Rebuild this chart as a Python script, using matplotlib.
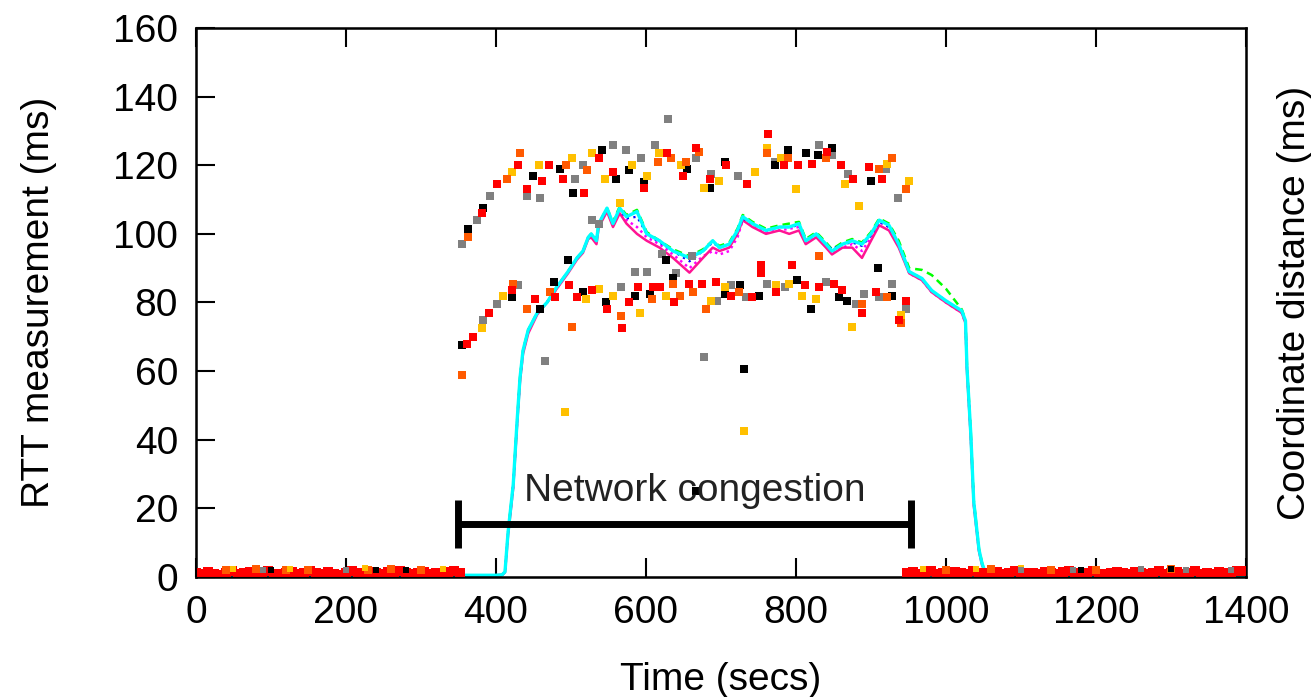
import matplotlib
matplotlib.use("Agg")
import matplotlib.pyplot as plt

plt.rcParams['font.family'] = ['Liberation Sans', 'DejaVu Sans']

# RTT samples during the congestion period, one list pair per colour
gray_t = [355, 375, 392, 441, 459, 505, 516, 556, 574, 594, 612, 630, 667, 687, 723, 772, 831, 848, 870, 920, 936,
          383, 401, 429, 567, 695, 714, 734, 762, 786, 840, 880, 891, 911, 928, 947,
          528, 537, 585, 602, 621, 640, 661, 465, 678]
gray_v = [97, 104, 111, 111, 110.5, 116, 120, 126, 124.5, 122, 126, 133.5, 122, 117.5, 117, 121, 126, 123, 117.5, 119, 110.5,
          75, 79.5, 85, 84.5, 80.5, 85, 81.5, 85.5, 84.5, 86, 79.5, 82.5, 81.5, 85.5, 78,
          104, 103, 89, 89, 94, 88.5, 93.5, 63, 64]

black_t = [363, 383, 449, 485, 503, 541, 560, 578, 597, 655, 686, 705, 772, 790, 813, 829, 848, 900,
           355, 421, 459, 477, 496, 516, 547, 586, 605, 636, 705, 725, 751, 802, 820, 857, 868, 910, 928,
           627, 731, 667]
black_v = [101.5, 107.5, 117, 119, 112, 124.5, 116, 118.5, 115, 119, 113.5, 121, 120, 124.5, 123.5, 123, 125, 115.5,
           67.5, 81.5, 78, 86, 92.5, 83, 80, 82, 82.5, 87, 82.5, 85, 82, 86.5, 78, 81.5, 80.5, 90, 82,
           92.5, 60.5, 25]

red_t = [381, 401, 429, 441, 461, 471, 489, 518, 538, 556, 597, 628, 649, 667, 686, 707, 735, 763, 784, 803, 822, 841,
         860, 876, 897, 915,
         361, 370, 391, 421, 452, 479, 497, 508, 528, 548, 568, 577, 589, 609, 619, 638, 657, 675, 694, 713, 742, 754,
         754, 774, 795, 812, 831, 851, 862, 888, 907, 937, 947]
red_v = [106, 114.5, 120, 113, 115.5, 120, 116, 112, 122, 118, 113.5, 123.5, 117, 125, 116, 120, 114.5, 129, 120, 120,
         120.5, 124, 120, 116, 119.5, 116,
         68, 70, 77, 83.5, 81, 81.5, 85, 81.5, 83.5, 78, 72.5, 80, 84.5, 84.5, 84.5, 80, 85.5, 85.5, 86, 82, 81.5, 91,
         88.5, 83, 91, 85, 84.5, 85.5, 83.5, 77, 83, 75, 80.5]

orange_t = [363, 415, 432, 493, 521, 616, 634, 653, 671, 762, 790, 840, 911, 928, 947,
            355, 423, 441, 472, 501, 567, 608, 636, 646, 663, 680, 724, 831, 888, 921, 940]
orange_v = [99, 116, 123.5, 120, 118.5, 121, 122, 121, 124, 123.5, 122, 122, 119, 122, 113,
            59, 85.5, 78, 83, 73, 76, 81, 85.5, 82, 83, 78, 83, 93.5, 79.5, 81.5, 74]

gold_t = [421, 457, 501, 528, 545, 582, 601, 618, 647, 678, 698, 745, 762, 780, 800, 865, 884, 921, 951,
          381, 410, 520, 537, 556, 565, 592, 627, 687, 705, 774, 791, 808, 827, 875, 940, 492, 731]
gold_v = [118, 120, 122, 123.5, 116, 120, 117, 123.5, 120, 113.5, 115.5, 118, 125, 122, 113, 114.5, 108, 120.5, 115.5,
          72.5, 82, 81, 84, 82, 109, 77, 82, 80.5, 84.5, 85, 85.5, 82, 81, 73, 76.5, 48, 42.5]

# RTT samples outside the congestion period (near zero)
base_red_t = [0, 8, 16, 24, 32, 40, 48, 56, 64, 72, 80, 88, 96, 104, 112, 120, 128, 136, 144, 152, 160, 168, 176,
              184, 192, 200, 208, 216, 224, 232, 240, 248, 256, 264, 272, 280, 288, 296, 304, 312, 320, 328, 336,
              344, 352,
              948, 956, 964, 972, 980, 988, 996, 1004, 1012, 1020, 1028, 1036, 1044, 1052, 1060, 1068, 1076, 1084,
              1092, 1100, 1108, 1116, 1124, 1132, 1140, 1148, 1156, 1164, 1172, 1180, 1188, 1196, 1204, 1212, 1220,
              1228, 1236, 1244, 1252, 1260, 1268, 1276, 1284, 1292, 1300, 1308, 1316, 1324, 1332, 1340, 1348, 1356,
              1364, 1372, 1380, 1388, 1396]
base_red_v = [1.2, 0.8, 1.5, 1.0, 0.7, 1.3, 1.6, 0.9, 1.1, 1.4, 0.8, 1.2, 1.7, 1.0, 0.9, 1.3, 1.5, 0.8, 1.1, 1.6,
              1.2, 0.9, 1.4, 1.0, 0.7, 1.3, 1.8, 1.1, 0.9, 1.5, 1.2, 0.8, 1.4, 1.0, 1.6, 1.1, 0.9, 1.3, 1.5, 0.8,
              1.2, 1.0, 1.4, 1.7, 1.1,
              1.1, 1.4, 0.9, 1.2, 1.6, 0.8, 1.3, 1.0, 1.5, 1.2, 0.9, 1.7, 1.1, 1.3, 0.8, 1.4, 1.0, 1.2, 1.6, 0.9,
              1.3, 1.1, 0.8, 1.5, 1.2, 1.0, 1.4, 1.7, 0.9, 1.1, 1.3, 1.6, 1.0, 0.8, 1.2, 1.4, 1.1, 0.9, 1.5, 1.3,
              1.0, 1.2, 1.6, 0.8, 1.1, 1.4, 0.9, 1.3, 1.7, 1.0, 1.2, 0.8, 1.5, 1.1, 1.3, 1.8, 1.6]
base_orange_t = [40, 80, 120, 150, 230, 260, 300, 1000, 1060, 1140, 1200, 1300]
base_orange_v = [2.0, 2.2, 1.9, 2.1, 2.0, 2.3, 2.0, 2.1, 2.2, 1.9, 2.0, 2.2]
base_gold_t = [50, 125, 225, 330, 970, 1040, 1100]
base_gold_v = [2.4, 2.2, 2.5, 2.3, 2.4, 2.2, 2.5]
base_gray_t = [90, 200, 1100, 1170, 1260, 1320, 1380]
base_gray_v = [2.0, 2.1, 1.9, 2.0, 2.2, 1.9, 2.1]
base_black_t = [100, 240, 280, 1180, 1300]
base_black_v = [2.0, 1.9, 2.1, 2.0, 2.2]

# coordinate distance (one line per node)
coord_t = [0, 100, 200, 300, 400, 408, 412, 416, 423, 428, 432, 436, 443, 455, 468, 481, 496, 508, 516, 523, 527,
           534, 537, 548, 556, 565, 574, 588, 601, 618, 636, 658, 676, 689, 698, 711, 722, 729, 742, 760, 778, 791,
           804, 813, 827, 840, 848, 862, 875, 888, 900, 911, 924, 937, 951, 968, 981, 1000, 1021, 1026, 1028, 1033,
           1037, 1044, 1048, 1053, 1100, 1200, 1300, 1400]
coord_cyan = [0.5, 0.5, 0.5, 0.5, 0.5, 0.6, 1.5, 12.8, 27, 45, 58, 66, 72, 77, 80, 84.5, 89, 93, 95, 99, 100,
              98, 103, 107.5, 103, 107.5, 105, 106.5, 100, 98, 95, 93, 95, 98, 96, 97, 101, 105, 103, 101, 102, 102,
              103, 98, 100, 97, 95, 97, 98, 97, 100, 104, 102.5, 97, 89, 87, 83.5, 80.5, 77.6, 74.7, 61, 42,
              22, 8, 4, 1, 0.5, 0.5, 0.5, 0.5]
coord_pink = [0.5, 0.5, 0.5, 0.5, 0.5, 0.6, 1.3, 12, 26, 44, 57, 65, 71, 76.5, 80, 84, 88.5, 92.5, 94.5, 98.5, 99,
              97, 102, 106.5, 102, 106, 103, 100, 98, 96, 93, 88.7, 93, 96, 95, 96, 100, 104, 102, 100, 101, 100,
              101, 97, 99, 96, 94, 96, 96, 93, 98, 102.5, 101, 96, 88.5, 86.5, 83, 80, 77, 74, 60, 41,
              21, 7.5, 3.5, 1, 0.5, 0.5, 0.5, 0.5]
coord_magenta = [0.5, 0.5, 0.5, 0.5, 0.5, 0.6, 1.4, 12.5, 26.5, 44.5, 57.5, 65.5, 71.5, 77, 80, 84, 89, 93, 95, 99,
                 99.5, 98, 102.5, 107, 103, 107, 104, 102, 99, 97, 94, 90, 93.5, 95, 94, 95, 99, 104, 102.5, 100.5,
                 101, 101.5, 102, 97.5, 99.5, 96.5, 94.5, 96, 97, 95, 99, 103.5, 102, 96.5, 88.5, 86.5, 83,
                 80, 77, 74, 60.5, 41.5, 21.5, 7.8, 3.8, 1, 0.5, 0.5, 0.5, 0.5]
coord_blue = [0.5, 0.5, 0.5, 0.5, 0.5, 0.6, 1.5, 12.8, 27, 45, 58, 66, 72, 77, 80, 84.5, 89, 93, 95, 99, 100,
              98.5, 103, 107, 103.5, 107, 104.5, 105, 100, 97.5, 95, 92, 95, 97.5, 96, 97, 100.5, 104.5, 103,
              101, 102, 102, 102.5, 98, 100, 97, 95.5, 97, 97.5, 96.5, 99.5, 103.5, 102, 97, 89, 87, 83.5, 80.5,
              77.5, 74.5, 61, 42, 22, 8, 4, 1, 0.5, 0.5, 0.5, 0.5]
coord_green = [0.5, 0.5, 0.5, 0.5, 0.5, 0.6, 1.5, 12.8, 27, 45, 58, 66, 72, 77, 80, 84.5, 89, 93, 95, 99, 100,
               98, 103, 107.5, 103.5, 108, 105.5, 107, 100.5, 98, 95.5, 93.5, 95.5, 98, 96.5, 97.5, 101.5, 105.5,
               103.5, 101.5, 102.5, 103, 103.5, 98.5, 100.5, 97.5, 95.5, 97.5, 98.5, 97.5, 100.5, 104.5, 103, 98,
               90, 89.5, 88, 84, 78, 75, 61.5, 42.5, 22.5, 8.2, 4.2, 1, 0.5, 0.5, 0.5, 0.5]

# congestion interval annotation
cong_start = 350
cong_end = 953
cong_level = 15.5

fig, ax = plt.subplots(figsize=(13.11, 6.97), dpi=100)
fig.subplots_adjust(left=0.1495, right=0.9504, top=0.9598, bottom=0.1722)

ms = 32
ax.scatter(base_red_t, base_red_v, s=50, marker='s', color='#ff0000', linewidths=0, zorder=3)
ax.scatter(base_orange_t, base_orange_v, s=ms, marker='s', color='#ff5a00', linewidths=0, zorder=3)
ax.scatter(base_gold_t, base_gold_v, s=ms * 0.6, marker='s', color='#ffc000', linewidths=0, zorder=3)
ax.scatter(base_gray_t, base_gray_v, s=ms * 0.6, marker='s', color='#808080', linewidths=0, zorder=3)
ax.scatter(base_black_t, base_black_v, s=ms * 0.6, marker='s', color='black', linewidths=0, zorder=3)

ax.plot(coord_t, coord_green, color='#00ff00', lw=1.8, ls=(0, (3, 2)), zorder=2)
ax.plot(coord_t, coord_magenta, color='#ff00ff', lw=1.8, ls=(0, (1, 1.5)), zorder=2)
ax.plot(coord_t, coord_pink, color='#ff1493', lw=1.8, zorder=2)
ax.plot(coord_t, coord_blue, color='#0000ff', lw=1.6, ls=(0, (1, 2)), zorder=2)
ax.plot(coord_t, coord_cyan, color='#00ffff', lw=2.4, zorder=2)

ax.scatter(gray_t, gray_v, s=ms, marker='s', color='#808080', linewidths=0, zorder=3)
ax.scatter(black_t, black_v, s=ms, marker='s', color='black', linewidths=0, zorder=3)
ax.scatter(gold_t, gold_v, s=ms, marker='s', color='#ffc000', linewidths=0, zorder=3)
ax.scatter(orange_t, orange_v, s=ms, marker='s', color='#ff5a00', linewidths=0, zorder=3)
ax.scatter(red_t, red_v, s=ms, marker='s', color='#ff0000', linewidths=0, zorder=3)

mid = (cong_start + cong_end) / 2
ax.errorbar([mid], [cong_level], xerr=[[mid - cong_start]], fmt='none', ecolor='black',
            elinewidth=5, capsize=17, capthick=5, zorder=4)
ax.text(665, 25, 'Network congestion', fontsize=28, ha='center', va='center', color='#222222', zorder=5)

ax.set_xlim(0, 1400)
ax.set_ylim(0, 160)
ax.set_xticks(range(0, 1401, 200))
ax.set_yticks(range(0, 161, 20))
ax.tick_params(direction='in', length=14, width=1.5, labelsize=28, top=True, right=True, pad=13)
for sp in ax.spines.values():
    sp.set_linewidth(1.8)

ax.set_xlabel('Time (secs)', fontsize=28, labelpad=22)
ax.set_ylabel('RTT measurement (ms)', fontsize=28, labelpad=40)
ax2 = ax.twinx()
ax2.set_ylim(0, 160)
ax2.set_yticks([])
ax2.set_ylabel('Coordinate distance (ms)', fontsize=28, labelpad=22)

fig.savefig('out.png', dpi=100)
